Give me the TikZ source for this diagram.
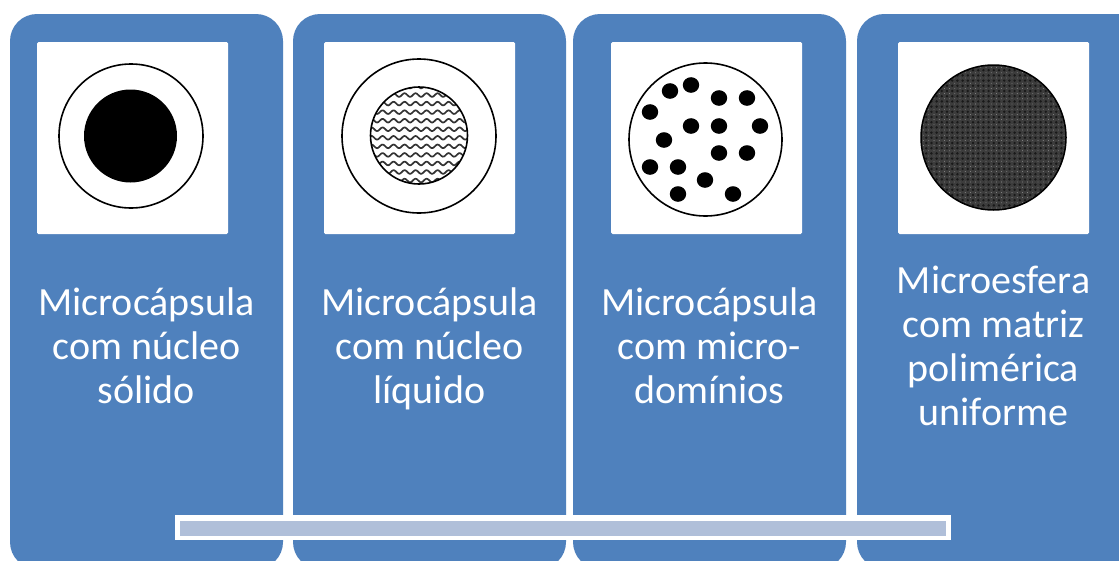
\documentclass[tikz,border=0pt]{standalone}
\usepackage{fontspec}
\setmainfont{Carlito}
\definecolor{cardblue}{HTML}{4F81BD}
\definecolor{barfill}{HTML}{B0BFD9}
\definecolor{matrixgray}{HTML}{3C3C3C}
\tikzset{
  card/.style={fill=cardblue,rounded corners=27pt},
  panel/.style={fill=white,rounded corners=1.5pt},
  shell/.style={draw=black,line width=1.6pt,fill=white},
  blob/.style={fill=black},
  caption/.style={text=white,align=center,inner sep=0pt,font=\fontsize{40}{44}\selectfont},
}
\begin{document}
\begin{tikzpicture}[x=1pt,y=-1pt]
\useasboundingbox (0,0) rectangle (1119,560);
\clip (0,0) rectangle (1119,560);
\fill[white] (0,0) rectangle (1119,560);

% Four cards running past the lower edge
\fill[card] (10,14) rectangle (283,569);
\fill[card] (293,14) rectangle (566,569);
\fill[card] (573,14) rectangle (846,569);
\fill[card] (857,14) rectangle (1160,569);

% Image panels
\fill[panel] (37,42) rectangle (228,234);
\fill[panel] (324,42) rectangle (515,234);
\fill[panel] (611,42) rectangle (802,234);
\fill[panel] (898,42) rectangle (1089,234);

% Solid core
\draw[shell] (131,136) circle [radius=72];
\fill[black] (130.5,136) circle [radius=46.5];

% Liquid core: wavy hatching inside the circle
\draw[shell] (419,136) circle [radius=77];
\begin{scope}
  \clip (419,135.5) circle [radius=48.5];
  \foreach \row in {0,...,11} {
    \draw[black!80,line width=1.7pt]
      plot[domain=365:475,samples=110,smooth] (\x,{86.5+\row*8.55+1.8*sin(\x*32.7)});
  }
\end{scope}
\draw[black,line width=1.6pt] (419,135.5) circle [radius=48.5];

% Micro-domains
\draw[shell] (705.5,139.5) circle [radius=76.5];
\foreach \px/\py in {670/91,691/85,719/98,747/98,650/112,691/126,719/126,760/126,
                     664/140,719/153,747/153,650/167,678/167,705/180,678/194,733/194} {
  \fill[blob] (\px,\py) ellipse [x radius=8.2,y radius=7.8];
}

% Uniform polymer matrix: fine dotted texture over dark gray
\fill[matrixgray] (993.5,137.5) circle [radius=72.5];
\begin{scope}
  \clip (993.5,137.5) circle [radius=72.5];
  \foreach \i in {0,...,28} {
    \foreach \j in {0,...,28} {
      \fill[black!90] ({921+\i*5.2},{65+\j*5.2}) circle [radius=1.35];
    }
  }
  \foreach \i in {0,...,28} {
    \foreach \j in {0,...,28} {
      \fill[white!70!black] ({923.6+\i*5.2},{67.6+\j*5.2}) circle [radius=0.4];
    }
  }
\end{scope}
\draw[black,line width=1.5pt] (993.5,137.5) circle [radius=72.5];

% Captions
\node[caption] (solid) at (146.5,351) {\strut Microcápsula\\com núcleo\\sólido\strut};
\node[caption] (liquid) at (429.5,351) {\strut Microcápsula\\com núcleo\\líquido\strut};
\node[caption] (domains) at (709.5,351) {\strut Microcápsula\\com micro-\\domínios\strut};
\node[caption] (sphere) at (993.5,351) {\strut Microesfera\\com matriz\\polimérica\\uniforme\strut};

% Horizontal bar across the cards
\fill[white] (175,515) rectangle (951,540);
\fill[barfill] (180,521) rectangle (946,536);
\end{tikzpicture}
\end{document}
